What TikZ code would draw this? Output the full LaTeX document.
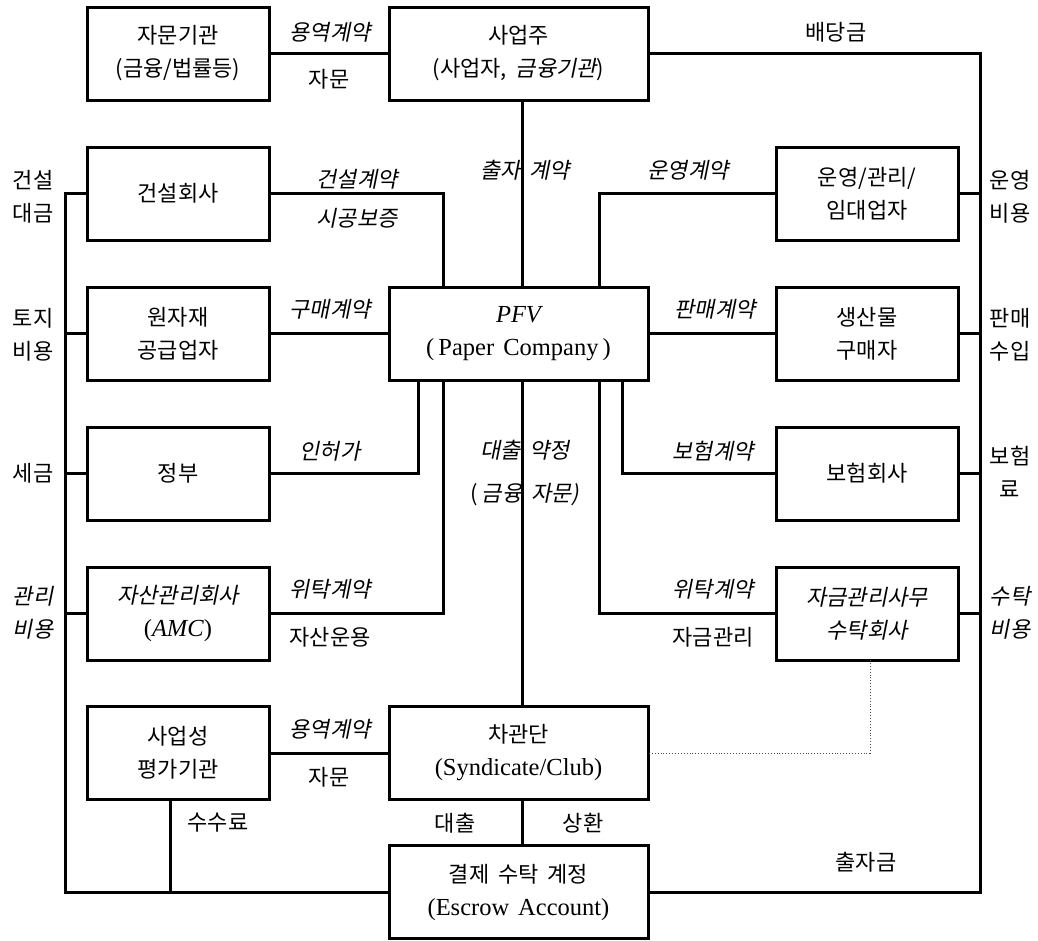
\documentclass[tikz,border=0pt]{standalone}
\usepackage{fontspec}
\setmainfont{Liberation Serif}
\newfontfamily\kr{Noto Sans CJK KR}
\newfontfamily\kri[FakeSlant=0.2]{Noto Sans CJK KR}
\newcommand\ksp{\hspace{9pt}}
\newcommand\kfont{\fontsize{22}{33}\selectfont\kr}
\newcommand\kifont{\fontsize{22}{33}\selectfont\kri}
\newcommand\latn[1]{{\fontsize{24.5}{33}\selectfont\rmfamily #1}}
\begin{document}
\begin{tikzpicture}[x=1pt,y=-1pt,
  box/.style={draw, line width=3pt, minimum width=182pt, minimum height=93pt,
    inner sep=0pt, outer sep=0pt, align=center, font=\kfont},
  wbox/.style={box, minimum width=259pt},
  conn/.style={line width=3pt},
  dotline/.style={line width=0.9pt, dotted, black!70},
  lab/.style={inner sep=0pt, align=center, font=\kfont},
  ilab/.style={lab, font=\kifont}]
\fill[white] (0,0) rectangle (1038,940);
\useasboundingbox (0,0) rectangle (1038,940);

% boxes
\node[box]  (A) at (178,53.5)  {자문기관\\(금융/법률등)};
\node[wbox] (S) at (518.5,53.5) {사업주\\(사업자,\ksp{\kri 금융기관})};
\node[box]  (B) at (178,193.5) {건설회사};
\node[box]  (O) at (867,193.5) {운영/관리/\\임대업자};
\node[box]  (M) at (178,333.5) {원자재\\공급업자};
\node[wbox] (P) at (518.5,333.5) {\latn{\itshape PFV}\\\latn{(\,Paper\hspace{9pt}Company\,)}};
\node[box]  (C) at (867,333.5) {생산물\\구매자};
\node[box]  (G) at (178,473.5) {정부};
\node[box]  (I) at (867,473.5) {보험회사};
\node[box]  (K) at (178,613.5) {{\kri 자산관리회사}\\\latn{(\textit{AMC})}};
\node[box, font=\kifont] (T) at (867,613.5) {자금관리사무\\수탁회사};
\node[box]  (E) at (178,753) {사업성\\평가기관};
\node[wbox] (L) at (518.5,753) {차관단\\\latn{(Syndicate/Club)}};
\node[wbox] (X) at (518.5,892) {결제\ksp 수탁\ksp 계정\\\latn{(Escrow\hspace{9pt}Account)}};

% helper coordinates
\coordinate (LT) at (65,193.5);
\coordinate (LB) at (65,892);
\coordinate (RT) at (980,53.5);
\coordinate (RB) at (980,892);
\coordinate (v170) at (170,0);
\coordinate (v418) at (418,0);
\coordinate (v443) at (443,0);
\coordinate (v522) at (522,0);
\coordinate (v599) at (599,0);
\coordinate (v622) at (622,0);
\coordinate (v870) at (870,0);

% outer frame lines
\draw[conn] (B.west) -- (LT) -- (LB) -- (X.west);
\draw[conn] (S.east) -- (RT) -- (RB) -- (X.east);
\draw[conn] (M.west) -- (M.west -| LT);
\draw[conn] (G.west) -- (G.west -| LT);
\draw[conn] (K.west) -- (K.west -| LT);
\draw[conn] (O.east) -- (O.east -| RT);
\draw[conn] (C.east) -- (C.east -| RT);
\draw[conn] (I.east) -- (I.east -| RT);
\draw[conn] (T.east) -- (T.east -| RT);

% direct links
\draw[conn] (A.east) -- (S.west);
\draw[conn] (M.east) -- (P.west);
\draw[conn] (P.east) -- (C.west);
\draw[conn] (E.east) -- (L.west);

% PFV links
\draw[conn] (B.east) -- (B.east -| v443) -- (v443 |- P.north);
\draw[conn] (O.west) -- (O.west -| v599) -- (v599 |- P.north);
\draw[conn] (G.east) -- (G.east -| v418) -- (v418 |- P.south);
\draw[conn] (K.east) -- (K.east -| v443) -- (v443 |- P.south);
\draw[conn] (I.west) -- (I.west -| v622) -- (v622 |- P.south);
\draw[conn] (T.west) -- (T.west -| v599) -- (v599 |- P.south);
\draw[conn] (v522 |- S.south) -- (v522 |- P.north);
\draw[conn] (v522 |- P.south) -- (v522 |- L.north);
\draw[conn] (v522 |- L.south) -- (v522 |- X.north);
\draw[conn] (v170 |- E.south) -- (v170 |- X.west);
\draw[dotline] (v870 |- T.south) -- (v870 |- L.east) -- (L.east);

% labels
\node[ilab] (l1) at (330,32) {용역계약};
\node[lab]  (l2) at (329,79) {자문};
\node[lab]  (l3) at (836,32) {배당금};
\node[lab]  (l4) at (33,197) {건설\\대금};
\node[ilab] (l5) at (357,179) {건설계약};
\node[ilab] (l6) at (357,218) {시공보증};
\node[ilab] (l7) at (525,170) {출자\ksp 계약};
\node[ilab] (l8) at (688,170) {운영계약};
\node[lab]  (l9) at (1010,197) {운영\\비용};
\node[lab]  (l10) at (33,335) {토지\\비용};
\node[ilab] (l11) at (330,309) {구매계약};
\node[ilab] (l12) at (715,309) {판매계약};
\node[lab]  (l13) at (1010,335) {판매\\수입};
\node[ilab] (l14) at (330,451) {인허가};
\node[lab]  (l15) at (33,473) {세금};
\node[ilab] (l16) at (525,450) {대출\ksp 약정};
\node[lab]  (l17) at (525,495) {(\,{\kri 금융\ksp 자문)}};
\node[ilab] (l18) at (713,451) {보험계약};
\node[lab]  (l19) at (1010,472) {보험\\료};
\node[ilab] (l20) at (33,613) {관리\\비용};
\node[ilab] (l21) at (330,589) {위탁계약};
\node[lab]  (l22) at (330,637) {자산운용};
\node[ilab] (l23) at (713,589) {위탁계약};
\node[lab]  (l24) at (713,637) {자금관리};
\node[ilab] (l25) at (1010,613) {수탁\\비용};
\node[ilab] (l26) at (330,729) {용역계약};
\node[lab]  (l27) at (329,777) {자문};
\node[lab]  (l28) at (218,823) {수수료};
\node[lab]  (l29) at (455,823) {대출};
\node[lab]  (l30) at (583,823) {상환};
\node[lab]  (l31) at (866,862) {출자금};
\end{tikzpicture}
\end{document}
